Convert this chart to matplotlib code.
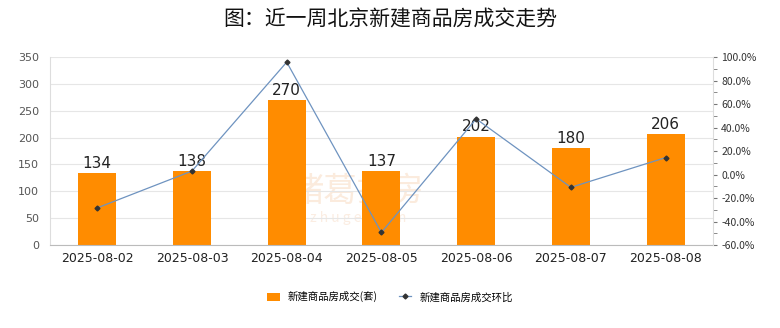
import matplotlib
matplotlib.use("Agg")
import matplotlib.pyplot as plt
from matplotlib.ticker import MultipleLocator, FuncFormatter

plt.rcParams["font.family"] = ["Noto Sans CJK SC", "DejaVu Sans"]

dates = ["2025-08-02", "2025-08-03", "2025-08-04", "2025-08-05", "2025-08-06", "2025-08-07", "2025-08-08"]
deals = [134, 138, 270, 137, 202, 180, 206]
mom_pct = [-28.4, 3.0, 95.7, -49.3, 47.4, -10.9, 14.4]

bar_color = "#FF8C00"
line_color = "#6E93C0"
grid_color = "#E6E6E6"

fig = plt.figure(figsize=(7.8, 3.28), dpi=100)
ax = fig.add_axes([0.064, 0.253, 0.850, 0.573])
x = list(range(len(dates)))

# faint watermark, behind the bars
ax.text(2.75, 100, "诸葛找房", fontsize=24, color="#FBEBDD", ha="center", va="center", zorder=1)
ax.text(2.75, 50, "z h u g e . c o m", fontsize=10, color="#FBEDE2", ha="center", va="center", zorder=1)

bars = ax.bar(x, deals, width=0.4, color=bar_color, zorder=2, label="新建商品房成交(套)")
for xi, v in zip(x, deals):
    ax.text(xi, v + 4, str(v), ha="center", va="bottom", fontsize=11, color="#222222",
            family="DejaVu Sans", zorder=5)

ax.set_ylim(0, 350)
ax.set_xlim(-0.5, len(dates) - 0.5)
ax.yaxis.set_major_locator(MultipleLocator(50))
ax.grid(axis="y", color=grid_color, linewidth=0.8, zorder=0)
ax.set_xticks(x)
ax.set_xticklabels(dates, family="DejaVu Sans")
ax.tick_params(axis="x", length=0, labelsize=9, pad=5, colors="#222222")
ax.tick_params(axis="y", length=0, labelsize=8, colors="#555555", pad=8)
for lbl in ax.get_yticklabels():
    lbl.set_family("DejaVu Sans")
for side in ["top", "right"]:
    ax.spines[side].set_visible(False)
ax.spines["left"].set_color("#DDDDDD")
ax.spines["bottom"].set_color("#BBBBBB")

ax2 = ax.twinx()
line, = ax2.plot(x, mom_pct, color=line_color, linewidth=0.9, marker="D", markersize=2.5,
                 markerfacecolor="#333333", markeredgecolor="#333333", zorder=4,
                 label="新建商品房成交环比")
ax2.set_ylim(-60, 100)
ax2.yaxis.set_major_locator(MultipleLocator(20))
ax2.yaxis.set_minor_locator(MultipleLocator(10))
ax2.yaxis.set_major_formatter(FuncFormatter(lambda v, p: f"{v:.1f}%"))
ax2.tick_params(axis="y", which="both", direction="out", length=3, color="#777777",
                labelsize=7.5, colors="#333333", pad=3)
for side in ["top", "left", "bottom"]:
    ax2.spines[side].set_visible(False)
ax2.spines["right"].set_color("#DDDDDD")

fig.suptitle("图：近一周北京新建商品房成交走势", fontsize=15, y=0.975, color="#111111")

fig.legend(handles=[bars, line], loc="center", bbox_to_anchor=(0.5, 0.095), ncol=2,
           frameon=False, fontsize=7.5, handlelength=1.2, handleheight=0.8, columnspacing=2.0)

fig.savefig("out.png", dpi=100)
